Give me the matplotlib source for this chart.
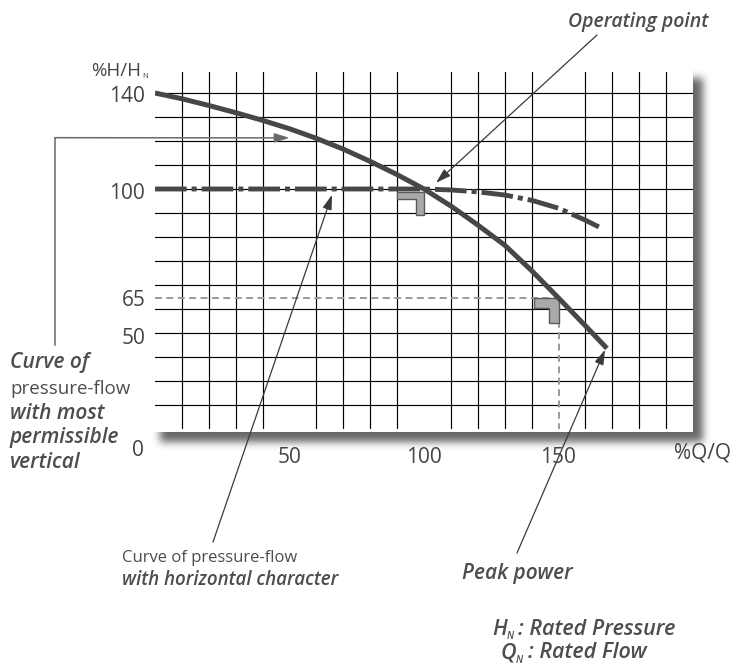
import numpy as np
import matplotlib
matplotlib.use("Agg")
import matplotlib.pyplot as plt
from matplotlib.patches import Polygon, Rectangle
from matplotlib.lines import Line2D

plt.rcParams['font.family'] = ['Open Sans', 'DejaVu Sans']
plt.rcParams['lines.scale_dashes'] = False

# ---------------- data ----------------
q_system = [0, 10, 20, 30, 40, 50, 60, 70, 80, 90, 100, 110, 120, 130, 140, 150, 160, 168]
h_system = [140, 137.6, 134.8, 131.8, 128.6, 125.1, 121.1, 116.6, 111.5, 106, 100, 92.9, 85.0, 76.6, 66.0, 54.6, 43.0, 33.6]

q_flat = [0, 100, 110, 120, 130, 140, 150, 160, 165]
h_flat = [100, 100, 99.6, 98.8, 97.5, 95.3, 92, 87, 84.2]

op_q, op_h = 100, 100          # operating point
peak_q, peak_h = 150, 54.6     # reference point (labelled 65)

xtick_vals = [50, 100, 150]
xtick_labels = ["50", "100", "150"]
ytick_vals = [139.5, 99.3, 54.6, 38.7]
ytick_labels = ["140", "100", "65", "50"]

# -------------- figure ----------------
W, H = 733, 665
fig = plt.figure(figsize=(W / 100, H / 100), dpi=100)

# background layer (shadow + white card), pixel coordinates
bg = fig.add_axes([0, 0, 1, 1], zorder=0)
bg.set_xlim(0, W); bg.set_ylim(H, 0); bg.axis('off')
mask = np.zeros((H, W))
mask[78:442, 160:703] = 1.0
def blur(a, s):
    r = int(3 * s)
    k = np.exp(-0.5 * (np.arange(-r, r + 1) / s) ** 2); k /= k.sum()
    a = np.apply_along_axis(lambda m: np.convolve(m, k, mode='same'), 0, a)
    a = np.apply_along_axis(lambda m: np.convolve(m, k, mode='same'), 1, a)
    return a
sh = blur(mask, 4.0)
rgba = np.zeros((H, W, 4))
rgba[..., :3] = 0.3
rgba[..., 3] = sh * 0.85
bg.imshow(rgba, extent=(0, W, H, 0), interpolation='bilinear', zorder=0)
bg.add_patch(Rectangle((152, 70), 541, 362, facecolor='white', edgecolor='none', zorder=1))

# main axes
L, R, T, B = 155, 693, 72, 429
ax = fig.add_axes([L / W, 1 - B / H, (R - L) / W, (B - T) / H], zorder=1)
ax.set_facecolor('none')
ax.set_xlim(0, 200)
ax.set_ylim(0, 148.75)
for s in ax.spines.values():
    s.set_visible(False)
ax.set_xticks(np.arange(10, 200, 10), minor=True)
ax.set_yticks(np.arange(10, 141, 10), minor=True)
ax.grid(which='minor', color='black', lw=0.85)
ax.set_xticks(xtick_vals)
ax.set_xticklabels(xtick_labels)
ax.set_yticks(ytick_vals)
ax.set_yticklabels(ytick_labels)
ax.tick_params(which='both', length=0)
ax.tick_params(axis='x', pad=13, labelsize=15, labelcolor='#444444')
ax.tick_params(axis='y', pad=7, labelsize=15, labelcolor='#444444')

# reference dashed lines
ax.plot([0, peak_q], [peak_h, peak_h], color='#9a9a9a', lw=1.4, dashes=(5, 3.2), zorder=3)
ax.plot([peak_q, peak_q], [peak_h, 0], color='#9a9a9a', lw=1.4, dashes=(5, 3.2), zorder=3)

# right-angle markers
def corner(qr, ht, q0, qi, hb, hi):
    pts = [(q0, ht), (qr, ht), (qr, hb), (qi, hb), (qi, hi), (q0, hi)]
    ax.add_patch(Polygon(pts, closed=True, facecolor='#a9a9a9', edgecolor='#5a5a5a', lw=1.0, zorder=4))
corner(op_q, 98.9, 90, 97, 89.2, 95.7)
corner(peak_q, peak_h, 141, 146.5, 44.3, 50.5)

# curves
ax.plot(q_flat, h_flat, color='#474747', lw=3.5, dashes=(22.8, 3.6, 3.6, 3.6),
        dash_capstyle='butt', zorder=5)
ax.plot(q_system, h_system, color='#474747', lw=3.6, solid_capstyle='butt',
        solid_joinstyle='round', zorder=6)

# overlay for annotations (pixel coordinates)
ov = fig.add_axes([0, 0, 1, 1], zorder=2)
ov.set_facecolor('none')
ov.set_xlim(0, W); ov.set_ylim(H, 0); ov.axis('off')

tc = '#4d4d4d'
bi = dict(style='italic', weight='semibold', color=tc)
rg = dict(color=tc)

# axis titles
ov.text(141, 76, "%H/H", fontsize=13.5, ha='right', va='baseline', color='#444444')
ov.text(142, 78, "N", fontsize=5.5, ha='left', va='baseline', color='#444444')
ov.text(137.5, 451, "0", fontsize=15, ha='center', va='center', color='#444444')
ov.text(674, 453, "%Q/Q", fontsize=15, ha='left', va='center', color='#444444')

arrow_kw = dict(arrowstyle='-|>,head_length=0.45,head_width=0.14', color='#3a3a3a',
                lw=0.9, mutation_scale=20, shrinkA=0, shrinkB=0)

# operating point
ov.text(638, 27, "Operating point", fontsize=14, ha='center', va='baseline', **bi)
ov.annotate("", xy=(104.5, 102.6), xycoords=ax.transData, xytext=(597, 35),
            textcoords='data', arrowprops=arrow_kw, annotation_clip=False)

# left block
ov.add_line(Line2D([55, 55], [345, 137.7], color='#6a6a6a', lw=1.1))
ov.annotate("", xy=(50, 121.3), xycoords=ax.transData, xytext=(55, 137.7),
            textcoords='data',
            arrowprops=dict(arrow_kw, color='#6a6a6a', lw=1.1), annotation_clip=False)
ov.text(10, 368, "Curve of", fontsize=15, ha='left', va='baseline', **bi)
ov.text(10, 394, "pressure-flow", fontsize=13.5, ha='left', va='baseline', **rg)
ov.text(10, 419, "with most", fontsize=15, ha='left', va='baseline', **bi)
ov.text(10, 443, "permissible", fontsize=15, ha='left', va='baseline', **bi)
ov.text(10, 468, "vertical", fontsize=15, ha='left', va='baseline', **bi)

# horizontal character
ov.annotate("", xy=(65.8, 97.6), xycoords=ax.transData, xytext=(213, 542),
            textcoords='data', arrowprops=arrow_kw, annotation_clip=False)
ov.text(122, 562, "Curve of pressure-flow", fontsize=12, ha='left', va='baseline', **rg)
ov.text(122, 585, "with horizontal character", fontsize=13.5, ha='left', va='baseline', **bi)

# peak power
ov.annotate("", xy=(167.3, 33), xycoords=ax.transData, xytext=(517, 553),
            textcoords='data', arrowprops=arrow_kw, annotation_clip=False)
ov.text(462, 579, "Peak power", fontsize=15, ha='left', va='baseline', **bi)

# legend notes
ov.text(492, 635, "H", fontsize=15.5, ha='left', va='baseline', **bi)
ov.text(507, 639, "N", fontsize=7, ha='left', va='baseline', **bi)
ov.text(518, 635, ": Rated Pressure", fontsize=15.5, ha='left', va='baseline', **bi)
ov.text(501, 658, "Q", fontsize=15.5, ha='left', va='baseline', **bi)
ov.text(516, 663, "N", fontsize=7, ha='left', va='baseline', **bi)
ov.text(528, 658, ": Rated Flow", fontsize=15.5, ha='left', va='baseline', **bi)

fig.savefig("out.png", dpi=100)
